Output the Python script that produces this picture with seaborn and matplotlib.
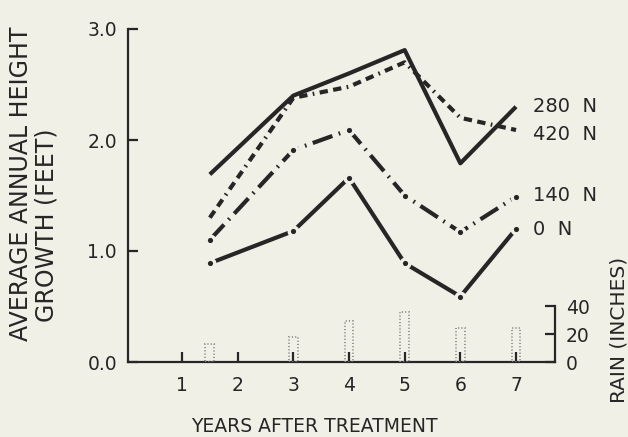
import matplotlib
matplotlib.use("Agg")
import matplotlib.pyplot as plt
import seaborn as sns
import pandas as pd

# ---- data ----
years = [1.5, 3, 4, 5, 6, 7]
growth_280 = [1.69, 2.40, 2.60, 2.81, 1.79, 2.30]
growth_420 = [1.30, 2.38, 2.48, 2.70, 2.20, 2.09]
growth_140 = [1.10, 1.91, 2.09, 1.50, 1.17, 1.49]
growth_0 = [0.89, 1.18, 1.66, 0.89, 0.59, 1.20]
series_labels = ["280 N", "420 N", "140 N", "0 N"]
rain_years = [1.5, 3, 4, 5, 6, 7]
rain_inches = [13, 18, 29, 36, 24, 24]
x_ticks = [1, 2, 3, 4, 5, 6, 7]
y_ticks = [0.0, 1.0, 2.0, 3.0]
rain_ticks = [0, 20, 40]

BG = "#f0f0e6"
INK = "#262626"

sns.set_theme(style="white")
plt.rcParams["font.family"] = ["DejaVu Sans"]

fig = plt.figure(figsize=(6.28, 4.37), dpi=100, facecolor=BG)
ax = fig.add_axes([128 / 628, 1 - 362 / 437, (555 - 128) / 628, (362 - 29) / 437])
ax.set_facecolor("none")

ax2 = ax.twinx()
ax2.set_facecolor("none")

# rain bars (dotted outlines)
ax2.bar(rain_years, rain_inches, width=0.16, fill=False, edgecolor="#8a8a8a",
        linestyle=(0, (0.6, 1.2)), linewidth=1.3, zorder=1)

series = [growth_280, growth_420, growth_140, growth_0]
styles = [
    dict(linestyle="-", marker=None),
    dict(dashes=(2.0, 1.3, 2.0, 1.3, 0.4, 1.3), marker=None),
    dict(dashes=(5.0, 1.6, 0.4, 1.6), marker=None),
    dict(linestyle="-", marker=None),
]
for vals, lab, st in zip(series, series_labels, styles):
    df = pd.DataFrame({"year": years, "growth": vals})
    sns.lineplot(data=df, x="year", y="growth", ax=ax, color=INK, linewidth=3.0,
                 solid_capstyle="butt", dash_capstyle="butt", **st)

# vertex dots with small gaps for the dot-marked series
for vals in (growth_140, growth_0):
    dfm = pd.DataFrame({"year": years, "growth": vals})
    sns.scatterplot(data=dfm, x="year", y="growth", ax=ax, s=38, color=INK,
                    edgecolor=BG, linewidth=2.4, zorder=5)

label_y = [2.30, 2.05, 1.50, 1.19]
for lab, yv in zip(series_labels, label_y):
    ax.text(7.30, yv, lab.replace(" ", "  "), fontsize=14, color=INK,
            ha="left", va="center")

# main axes formatting
ax.set_xlim(0.03, 7.70)
ax.set_ylim(0, 3.0)
ax.set_xticks(x_ticks)
ax.set_xticklabels([str(t) for t in x_ticks], fontsize=13.5, color=INK)
ax.set_yticks(y_ticks)
ax.set_yticklabels([f"{t:.1f}" for t in y_ticks], fontsize=13.5, color=INK)
ax.tick_params(axis="x", direction="in", length=7, width=1.6, pad=10, colors=INK,
               bottom=True)
ax.tick_params(axis="y", direction="in", length=7, width=1.6, pad=8, colors=INK,
               left=True)
ax.set_xlabel("")
ax.set_ylabel("")
for s in ("top", "right"):
    ax.spines[s].set_visible(False)
for s in ("left", "bottom"):
    ax.spines[s].set_color(INK)
    ax.spines[s].set_linewidth(1.6)
ax.spines["left"].set_bounds(0, 3.0)

# rain axis
ax2.set_ylim(0, 238)
ax2.set_yticks(rain_ticks)
ax2.set_yticklabels([str(t) for t in rain_ticks], fontsize=13.5, color=INK)
ax2.tick_params(axis="y", direction="in", length=7, width=1.6, pad=8, colors=INK,
                right=True)
ax2.set_ylabel("")
for s in ("top", "left", "bottom"):
    ax2.spines[s].set_visible(False)
ax2.spines["right"].set_color(INK)
ax2.spines["right"].set_linewidth(1.6)
ax2.spines["right"].set_bounds(0, 40)
ax2.grid(False)
ax.grid(False)

# axis titles
fig.text(314 / 628, 1 - 427 / 437, "YEARS AFTER TREATMENT", fontsize=13.5,
         color=INK, ha="center", va="center")
fig.text(21 / 628, 1 - 184 / 437, "AVERAGE ANNUAL HEIGHT", fontsize=17,
         color=INK, ha="center", va="center", rotation=90)
fig.text(47 / 628, 1 - 225 / 437, "GROWTH (FEET)", fontsize=17,
         color=INK, ha="center", va="center", rotation=90)
fig.text(619 / 628, 1 - 330 / 437, "RAIN (INCHES)", fontsize=14.5,
         color=INK, ha="center", va="center", rotation=90)

fig.savefig("out.png", dpi=100, facecolor=BG)
